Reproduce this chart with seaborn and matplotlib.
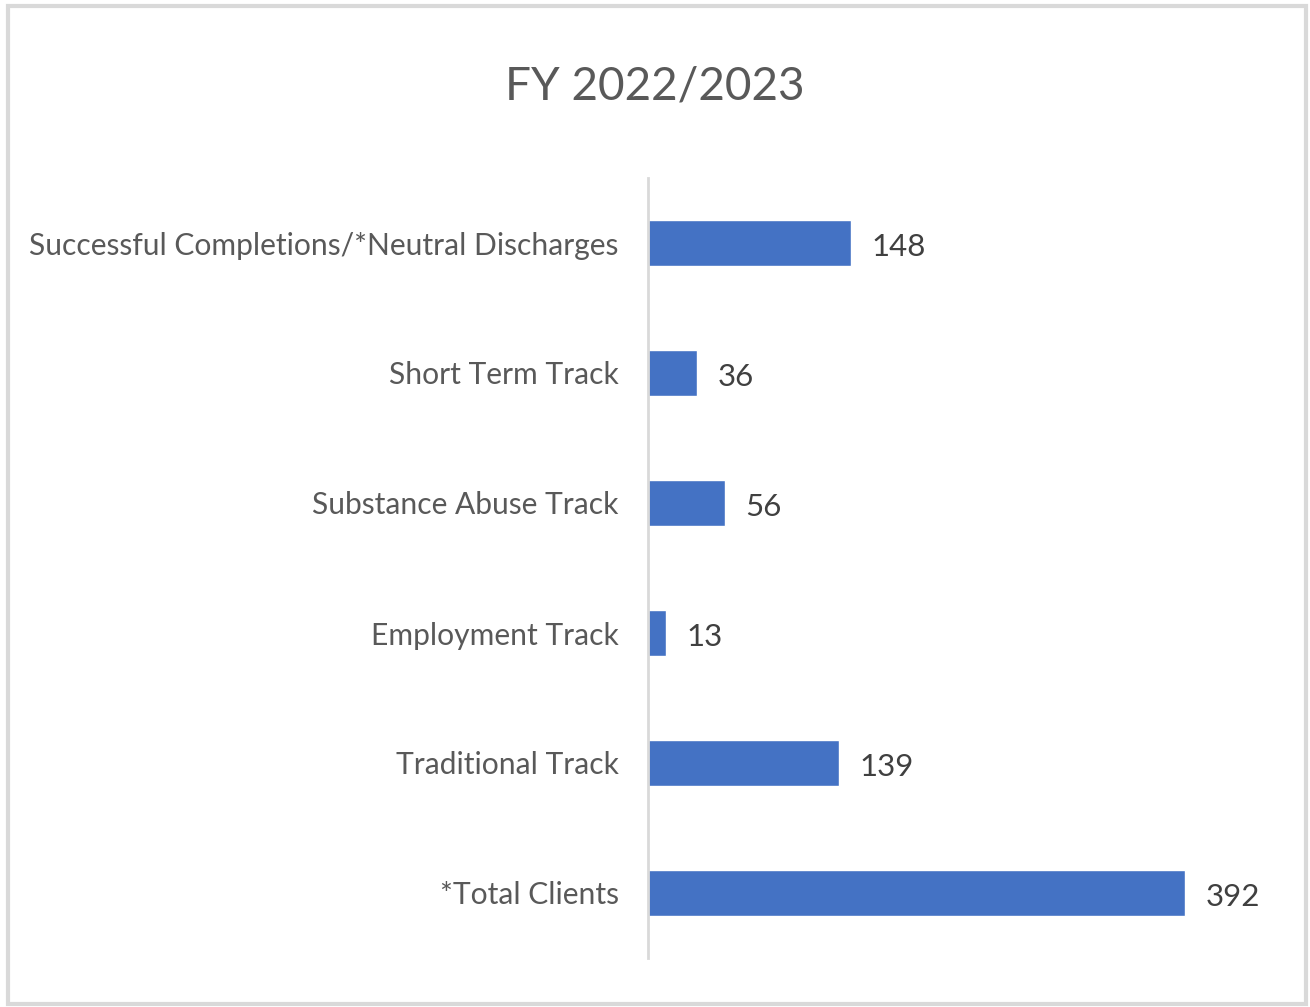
import matplotlib
matplotlib.use("Agg")
import matplotlib.pyplot as plt
import seaborn as sns
import pandas as pd
from matplotlib.patches import Rectangle

categories = ["Successful Completions/*Neutral Discharges", "Short Term Track",
              "Substance Abuse Track", "Employment Track", "Traditional Track",
              "*Total Clients"]
values = [148, 36, 56, 13, 139, 392]
title = "FY 2022/2023"

sns.set_theme(style="white")
plt.rcParams['font.family'] = ['Lato', 'DejaVu Sans']

df = pd.DataFrame({"category": categories, "value": values})

fig = plt.figure(figsize=(13.10, 10.07), dpi=100)
ax = fig.add_axes([648/1310, 1 - 958/1007, (1265 - 648)/1310, (958 - 178)/1007])

sns.barplot(data=df, y="category", x="value", orient="h", color="#4472C4",
            saturation=1, width=0.355, ax=ax)

ax.set_xlim(0, 450)
ax.set_ylim(5.5, -0.5)
ax.set_xlabel("")
ax.set_ylabel("")
ax.set_xticks([])
for s in ["top", "right", "bottom"]:
    ax.spines[s].set_visible(False)
ax.spines["left"].set_color("#D9D9D9")
ax.spines["left"].set_linewidth(2)
ax.tick_params(axis="y", length=0, pad=21, labelsize=21.6, labelcolor="#595959")

for i, v in enumerate(values):
    ax.text(v + 15, i + 0.03, str(v), va="center", ha="left", fontsize=22.5, color="#404040")

fig.text(0.5, 1 - 86/1007, title, ha="center", va="center", fontsize=33, color="#595959")

fig.patches.append(Rectangle((8/1310, 1 - 1004/1007), 1298/1310, 998/1007,
                             transform=fig.transFigure, fill=False,
                             edgecolor="#D9D9D9", linewidth=3))

fig.savefig("out.png", dpi=100)
